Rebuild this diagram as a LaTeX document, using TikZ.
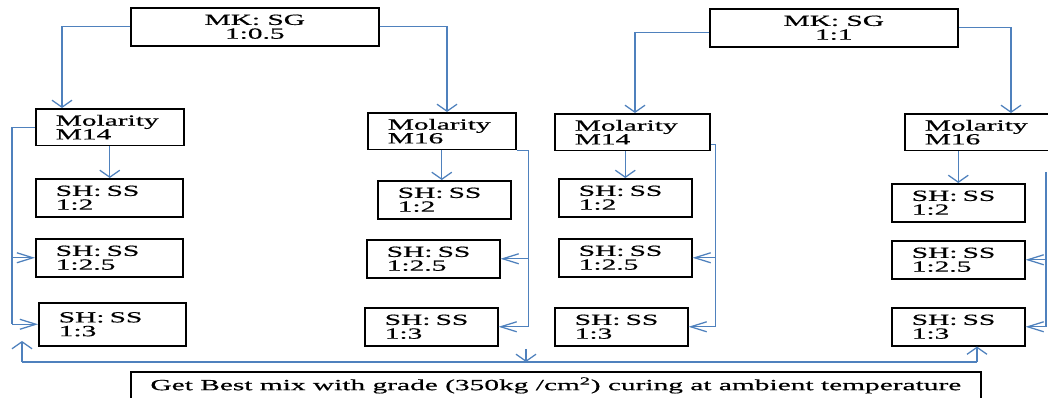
\documentclass[tikz,border=0pt]{standalone}
\usepackage{fontspec}
\setmainfont{Liberation Serif}[FakeStretch=1.9, FakeBold=0.6]
\usepackage{tikz}
\usetikzlibrary{arrows.meta, positioning, calc}
\definecolor{linkblue}{RGB}{79,129,189}

\begin{document}
\begin{tikzpicture}[x=0.025cm, y=-0.025cm,
  % boxes are placed by their top left corner, in pixel units
  box/.style={draw, line width=1.1pt, anchor=north west, inner ysep=0pt,
    font=\fontsize{11}{9.8}\selectfont},
  mk/.style={box, minimum width=6.2cm, minimum height=0.95cm, align=center},
  mol/.style={box, inner xsep=0.5cm, text width=2.7cm, minimum height=0.92cm, align=left},
  ratio/.style={box, inner xsep=0.5cm, text width=2.325cm, minimum height=0.95cm, align=left},
  wide/.style={text width=2.675cm},
  link/.style={draw=linkblue, line width=0.9pt},
  varr/.style={link, -{Straight Barb[length=0.175cm, width=0.5cm]}},
  harr/.style={link, -{Straight Barb[length=0.4cm, width=0.25cm]}}]

  \useasboundingbox (0,0) rectangle (1048,398);

  % top level
  \node[mk] (mk1) at (130,7) {MK: SG\\1:0.5};
  \node[mk] (mk2) at (709,8) {MK: SG\\1:1};

  % molarity
  \node[mol] (m14a) at (35,108) {Molarity\\M14};
  \node[mol] (m16a) at (367,112) {Molarity\\M16};
  \node[mol, text width=2.875cm] (m14b) at (554,113) {Molarity\\M14};
  \node[mol, text width=2.75cm] (m16b) at (904,113) {Molarity\\M16};

  % SH : SS ratios
  \node[ratio, wide] (c1a) at (35,178) {SH: SS\\1:2};
  \node[ratio, wide] (c1b) at (35,238) {SH: SS\\1:2.5};
  \node[ratio, wide, minimum height=1.075cm] (c1c) at (38,302) {SH: SS\\1:3};
  \node[ratio] (c2a) at (377,180) {SH: SS\\1:2};
  \node[ratio] (c2b) at (366,239) {SH: SS\\1:2.5};
  \node[ratio] (c2c) at (364,307) {SH: SS\\1:3};
  \node[ratio] (c3a) at (558,178) {SH: SS\\1:2};
  \node[ratio] (c3b) at (558,238) {SH: SS\\1:2.5};
  \node[ratio] (c3c) at (554,307) {SH: SS\\1:3};
  \node[ratio] (c4a) at (891,183) {SH: SS\\1:2};
  \node[ratio] (c4b) at (891,240) {SH: SS\\1:2.5};
  \node[ratio] (c4c) at (891,307) {SH: SS\\1:3};

  \node[box, minimum width=21.25cm, inner ysep=4pt, text depth=0.5cm] (best) at (130,371)
    {Get Best mix with grade (350kg /cm\textsuperscript{2}) curing at ambient temperature};

  % MK : SG to molarity
  \draw[varr] (mk1.west) -| ($(m14a.north west)+(27,0)$);
  \draw[varr] (mk1.east) -| ($(m16a.north west)+(80,0)$);
  \draw[varr] ($(mk2.west)+(0,5)$) -| ($(m14b.north west)+(81,0)$);
  \draw[varr] (mk2.east) -| ($(m16b.north west)+(107,0)$);

  % molarity to first ratio
  \draw[varr] (m14a.south) -- (m14a.south |- c1a.north);
  \draw[varr] (m16a.south) -- (m16a.south |- c2a.north);
  \draw[varr] (c3a.north |- m14b.south) -- (c3a.north);
  \draw[varr] (c4a.north |- m16b.south) -- (c4a.north);

  % side buses
  \draw[link] (m14a.west) -- ++(-23,0) coordinate (busA) -- (busA |- c1c.west);
  \draw[harr] (busA |- c1b.west) -- (c1b.west);
  \draw[harr] (busA |- c1c.west) -- (c1c.west);

  \draw[link] (m16a.south east) -- ++(12,0) coordinate (busB) -- (busB |- c2c.east);
  \draw[harr] (busB |- c2b.east) -- (c2b.east);
  \draw[harr] (busB |- c2c.east) -- (c2c.east);

  \draw[link] ($(m14b.south east)+(0,-7)$) -- ++(5,0) coordinate (busC) -- (busC |- c3c.east);
  \draw[harr] (busC |- c3b.east) -- (c3b.east);
  \draw[harr] (busC |- c3c.east) -- (c3c.east);

  \coordinate (busD) at (1046,172);
  \draw[link] (busD) -- (busD |- c4c.east);
  \draw[harr] (busD |- c4b.east) -- (c4b.east);
  \draw[harr] (busD |- c4c.east) -- (c4c.east);

  % bottom line
  \coordinate (baseL) at (22,362);
  \coordinate (baseR) at (977,362);
  \coordinate (tipL) at (22,341);
  \coordinate (drop) at (526,349);
  \draw[link] (baseL) -- (baseR);
  \draw[varr] (baseL) -- (tipL);
  \draw[varr] (baseR) -- (baseR |- c4c.south);
  \draw[varr] (drop) -- (drop |- baseL);

\end{tikzpicture}
\end{document}
